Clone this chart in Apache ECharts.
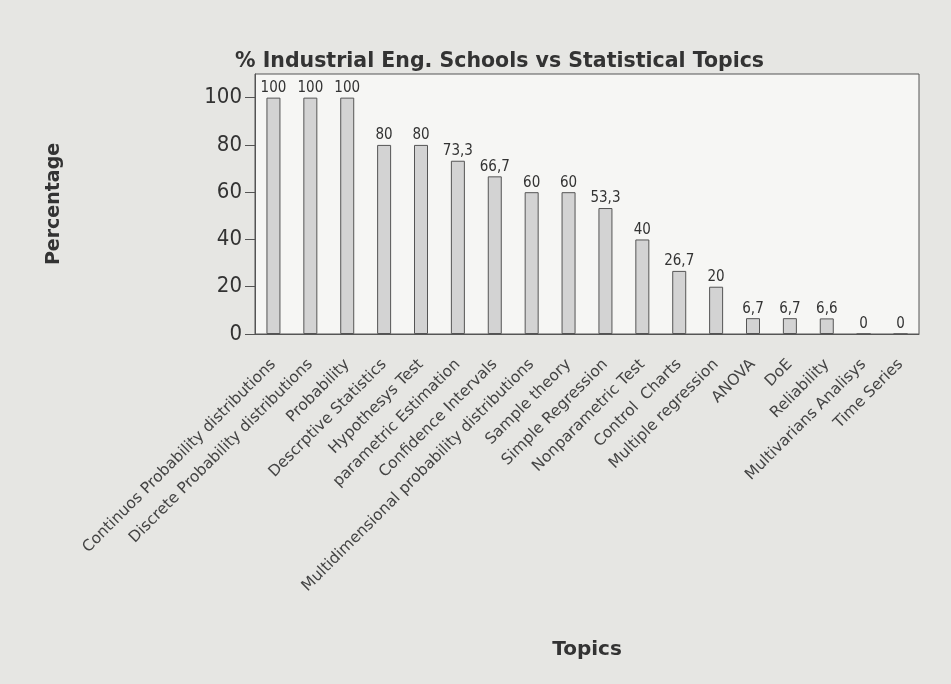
<!DOCTYPE html>
<html>
<head>
<meta charset="utf-8">
<script src="https://cdn.jsdelivr.net/npm/echarts@6/dist/echarts.min.js"></script>
<style>
html, body { margin: 0; padding: 0; background: #e6e6e3; }
#main { width: 951px; height: 684px; }
</style>
</head>
<body>
<div id="main"></div>
<script>
var topics = ['Continuos Probability distributions', 'Discrete Probability distributions', 'Probability',
    'Descrptive Statistics', 'Hypothesys Test', 'parametric Estimation', 'Confidence Intervals',
    'Multidimensional probability distributions', 'Sample theory', 'Simple Regression',
    'Nonparametric Test', 'Control  Charts', 'Multiple regression', 'ANOVA', 'DoE', 'Reliability',
    'Multivarians Analisys', 'Time Series'];
var percent = [100, 100, 100, 80, 80, 73.3, 66.7, 60, 60, 53.3, 40, 26.7, 20, 6.7, 6.7, 6.6, 0, 0];
var yTicks = [0, 20, 40, 60, 80, 100];

var myChart = echarts.init(document.getElementById('main'));
var option = {
    backgroundColor: '#e6e6e3',
    title: {
        text: '% Industrial Eng. Schools vs Statistical Topics',
        left: 230,
        top: 46,
        textStyle: { fontFamily: 'DejaVu Sans', fontSize: 20.5, fontWeight: 'bold', color: '#333' }
    },
    grid: {
        left: 255, right: 32, top: 74, bottom: 350,
        show: true,
        backgroundColor: '#f6f6f4',
        borderColor: '#555',
        borderWidth: 1
    },
    xAxis: {
        type: 'category',
        data: topics,
        name: 'Topics',
        nameLocation: 'middle',
        nameGap: 306,
        nameTextStyle: { fontFamily: 'DejaVu Sans', fontSize: 20, fontWeight: 'bold', color: '#333' },
        axisLine: { lineStyle: { color: '#555' } },
        axisTick: { alignWithLabel: true, length: 6, lineStyle: { color: '#555' } },
        axisLabel: {
            interval: 0, rotate: 45, margin: 28,
            fontFamily: 'DejaVu Sans', fontSize: 15.5, color: '#444'
        }
    },
    yAxis: {
        type: 'value',
        min: 0, max: 110, interval: 20,
        name: 'Percentage',
        nameLocation: 'middle',
        nameGap: 191,
        nameTextStyle: { fontFamily: 'DejaVu Sans', fontSize: 19, fontWeight: 'bold', color: '#333' },
        axisLine: { show: true, lineStyle: { color: '#555' } },
        axisTick: { show: true, length: 10, lineStyle: { color: '#555' } },
        splitLine: { show: false },
        axisLabel: {
            fontFamily: 'DejaVu Sans Condensed', fontSize: 22, color: '#333', margin: 13,
            showMaxLabel: false,
            formatter: function (v) { return yTicks.indexOf(v) >= 0 ? String(v) : ''; }
        }
    },
    series: [{
        type: 'bar',
        data: percent,
        barWidth: 14,
        itemStyle: { color: '#d3d3d3', borderColor: '#555', borderWidth: 1 },
        label: {
            show: true, position: 'top', distance: 2,
            fontFamily: 'DejaVu Sans Condensed', fontSize: 15, color: '#333',
            formatter: function (p) { return String(p.value).replace('.', ','); }
        }
    }]
};
myChart.setOption(option);
</script>
</body>
</html>
